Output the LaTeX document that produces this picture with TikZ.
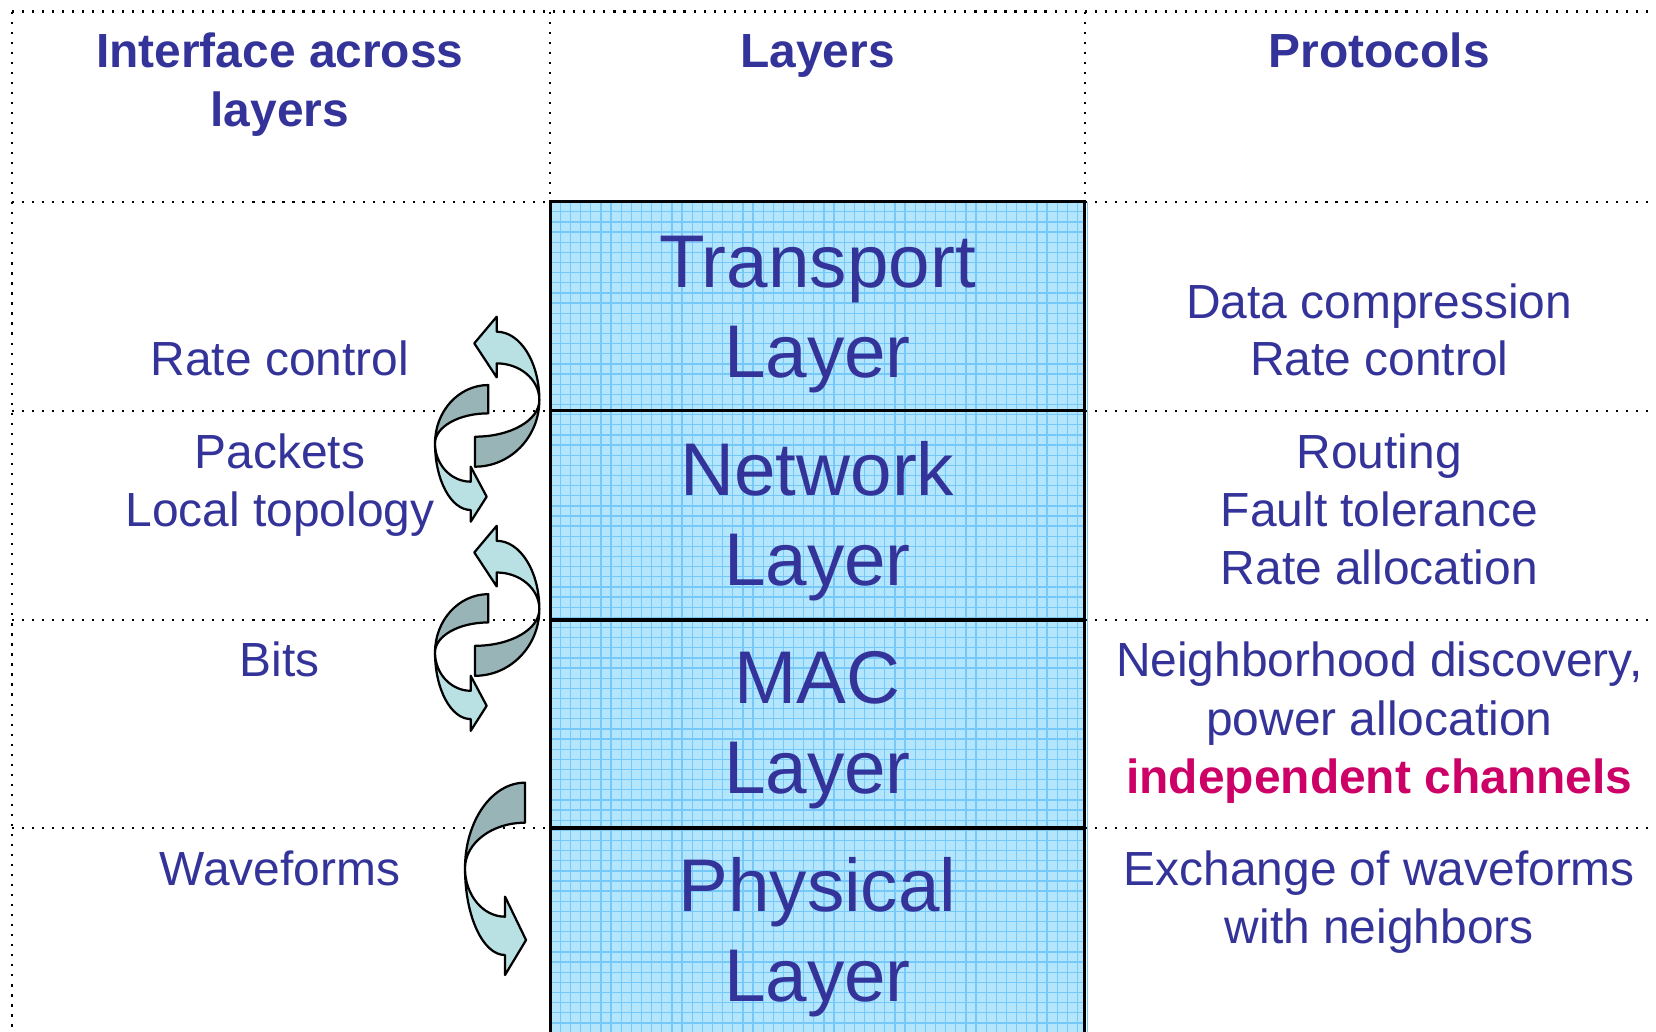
\documentclass[tikz,border=0pt]{standalone}
\usepackage{fontspec}
\setmainfont{Liberation Sans}
\definecolor{txtblue}{RGB}{51,51,153}
\definecolor{hilite}{RGB}{204,0,102}
\definecolor{layerfill}{RGB}{179,229,253}
\definecolor{layergrid}{RGB}{118,200,248}
\definecolor{frontface}{RGB}{185,225,228}
\definecolor{backface}{RGB}{152,180,182}
\begin{document}
\begin{tikzpicture}[x=0.01cm, y=0.01cm,
  every node/.style={inner sep=0pt, outer sep=0pt},
  bodytext/.style={font=\fontsize{12.9}{15.6}\selectfont, text=txtblue, anchor=base},
  hdtext/.style={font=\fontsize{12.9}{15.6}\selectfont\bfseries, text=txtblue, anchor=base},
  layertext/.style={font=\fontsize{20.1}{24}\selectfont, text=txtblue, anchor=base},
  hottext/.style={font=\fontsize{12.9}{15.6}\selectfont\bfseries, text=hilite, anchor=base},
  dotline/.style={line width=0.6pt, dash pattern=on 0.6pt off 2.1pt},
  layerframe/.style={line width=0.85pt},
  front/.style={fill=frontface, draw=black, line width=0.6pt, line join=round},
  back/.style={fill=backface, draw=black, line width=0.6pt, line join=round}]

\useasboundingbox (0,0) rectangle (1568,-977);
\clip (0,0) rectangle (1568,-977);

% table rules
\draw[dotline] (11,-11) -- (1568,-11);
\draw[dotline] (11,-11) -- (11,-980);
\draw[dotline] (521,-11) -- (521,-191);
\draw[dotline] (1027,-11) -- (1027,-191);
\foreach \ry in {191,389,587,784} {
  \draw[dotline] (11,-\ry) -- (521,-\ry);
  \draw[dotline] (1027,-\ry) -- (1568,-\ry);
}

% layer stack
\fill[layerfill] (521,-191) rectangle (1027,-990);
\foreach \i in {1,...,53} {
  \draw[layergrid, line width=0.35pt] ({521+\i*9.6},-191) -- ({521+\i*9.6},-990);
}
\foreach \i in {1,...,83} {
  \draw[layergrid, line width=0.35pt] (521,{-191-\i*9.6}) -- (1027,{-191-\i*9.6});
}
\draw[layerframe] (521,-990) -- (521,-191) -- (1027,-191) -- (1027,-990);
\foreach \ry in {389,587,784} {
  \draw[layerframe] (521,-\ry) -- (1027,-\ry);
}

% headers
\node[hdtext] (hInterface) at (265,-64) {Interface across};
\node[hdtext] (hInterface2) at (265,-120) {layers};
\node[hdtext] (hLayers) at (774,-64) {Layers};
\node[hdtext] (hProtocols) at (1306,-64) {Protocols};

% layer names
\node[layertext] (lT1) at (774,-272) {Transport};
\node[layertext] (lT2) at (774,-357) {Layer};
\node[layertext] (lN1) at (774,-469) {Network};
\node[layertext] (lN2) at (774,-554) {Layer};
\node[layertext] (lM1) at (774,-666) {MAC};
\node[layertext] (lM2) at (774,-751) {Layer};
\node[layertext] (lP1) at (774,-863) {Physical};
\node[layertext] (lP2) at (774,-948) {Layer};

% interfaces
\node[bodytext] (iRate) at (265,-356) {Rate control};
\node[bodytext] (iPackets) at (265,-444) {Packets};
\node[bodytext] (iTopo) at (265,-499) {Local topology};
\node[bodytext] (iBits) at (265,-641) {Bits};
\node[bodytext] (iWave) at (265,-838) {Waveforms};

% protocols
\node[bodytext] (pComp) at (1306,-302) {Data compression};
\node[bodytext] (pRate) at (1306,-356) {Rate control};
\node[bodytext] (pRouting) at (1306,-444) {Routing};
\node[bodytext] (pFault) at (1306,-499) {Fault tolerance};
\node[bodytext] (pAlloc) at (1306,-553) {Rate allocation};
\node[bodytext] (pNeigh) at (1306,-641) {Neighborhood discovery,};
\node[bodytext] (pPower) at (1306,-696) {power allocation};
\node[hottext] (pIndep) at (1306,-751) {independent channels};
\node[bodytext] (pExch) at (1306,-838) {Exchange of waveforms};
\node[bodytext] (pWith) at (1306,-893) {with neighbors};

% curved up/down arrow pairs between adjacent layers
\foreach \ry in {389,587} {
  \begin{scope}[shift={(0,-\ry)}]
    \draw[back] (510.7,10.2) arc[start angle=0,end angle=-90,x radius=60.9,y radius=63.1]
      -- (449.8,-24.5) arc[start angle=-90,end angle=0,x radius=60.9,y radius=34.7] -- cycle;
    \draw[back] (462.4,24.4) arc[start angle=90,end angle=180,x radius=50.5,y radius=55.2]
      arc[start angle=180,end angle=90,x radius=50.5,y radius=28.4] -- cycle;
    \draw[front] (470.3,74.9) arc[start angle=90,end angle=0,x radius=40.4,y radius=64.7]
      arc[start angle=0,end angle=90,x radius=40.4,y radius=34.7]
      -- (470.3,31.7) -- (449.1,63.9) -- (470.3,89.1) -- cycle;
    \draw[front] (411.9,-30.8) arc[start angle=180,end angle=270,x radius=33.8,y radius=63.1]
      -- (445.7,-105) -- (460.8,-81.3) -- (445.7,-52.9) -- (445.7,-67.1)
      arc[start angle=270,end angle=180,x radius=33.8,y radius=36.3] -- cycle;
  \end{scope}
}

% single downward arrow into the physical layer
\draw[back] (497.1,-741.1) arc[start angle=90,end angle=180,x radius=56.8,y radius=81.1]
  arc[start angle=180,end angle=90,x radius=56.8,y radius=43.2] -- cycle;
\draw[front] (440.3,-822.2) arc[start angle=180,end angle=270,x radius=37.9,y radius=82.1]
  -- (478.2,-923.2) -- (498.1,-890.1) -- (478.2,-849.0) -- (478.2,-868.0)
  arc[start angle=270,end angle=180,x radius=37.9,y radius=45.8] -- cycle;
\end{tikzpicture}
\end{document}
